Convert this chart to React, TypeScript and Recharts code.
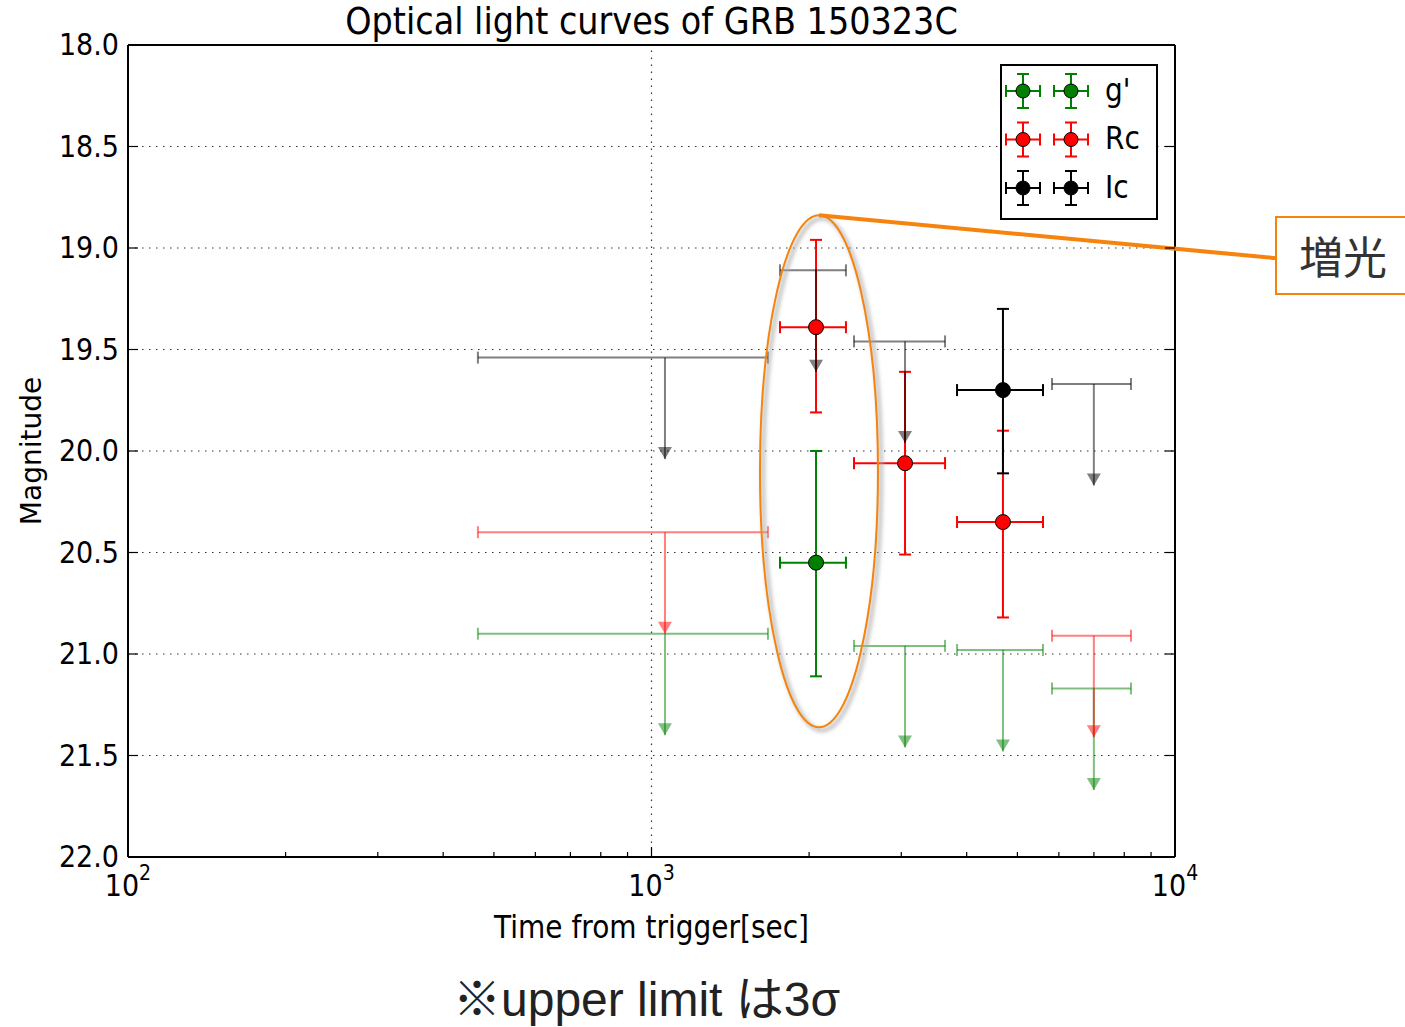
import React from 'react';
import {
  ComposedChart,
  Scatter,
  XAxis,
  YAxis,
  CartesianGrid,
  ErrorBar,
  ReferenceLine,
  ReferenceDot,
  Legend,
} from 'recharts';

// ---------- data ----------
// Detections: time [s], magnitude, time-range, magnitude-range
const G_DET_T = [2062];
const G_DET_MAG = [20.55];
const G_DET_T_LO = [1760];
const G_DET_T_HI = [2352];
const G_DET_MAG_BRIGHT = [20.0];
const G_DET_MAG_FAINT = [21.11];

const RC_DET_T = [2062, 3050, 4692];
const RC_DET_MAG = [19.39, 20.06, 20.35];
const RC_DET_T_LO = [1760, 2437, 3834];
const RC_DET_T_HI = [2352, 3637, 5596];
const RC_DET_MAG_BRIGHT = [18.96, 19.61, 19.9];
const RC_DET_MAG_FAINT = [19.81, 20.51, 20.82];

const IC_DET_T = [4692];
const IC_DET_MAG = [19.7];
const IC_DET_T_LO = [3834];
const IC_DET_T_HI = [5596];
const IC_DET_MAG_BRIGHT = [19.3];
const IC_DET_MAG_FAINT = [20.11];

// Upper limits (3 sigma)
const G_UL_T = [1061, 3050, 4692, 6998];
const G_UL_T_LO = [466, 2437, 3834, 5821];
const G_UL_T_HI = [1669, 3637, 5596, 8241];
const G_UL_MAG = [20.9, 20.96, 20.98, 21.17];

const RC_UL_T = [1061, 6998];
const RC_UL_T_LO = [466, 5821];
const RC_UL_T_HI = [1669, 8241];
const RC_UL_MAG = [20.4, 20.91];

const IC_UL_T = [1061, 2062, 3050, 6998];
const IC_UL_T_LO = [466, 1760, 2437, 5821];
const IC_UL_T_HI = [1669, 2352, 3637, 8241];
const IC_UL_MAG = [19.54, 19.11, 19.46, 19.67];

const ARROW_LEN = 0.5;

const X_MAJOR = [100, 1000, 10000];
const X_MINOR = [200, 300, 400, 500, 600, 700, 800, 900, 2000, 3000, 4000, 5000, 6000, 7000, 8000, 9000];
const X_TICKS = [...X_MAJOR, ...X_MINOR].sort((a, b) => a - b);
const Y_TICKS = [18, 18.5, 19, 19.5, 20, 20.5, 21, 21.5, 22];

const SERIES = [
  { name: "g'", color: '#008000' },
  { name: 'Rc', color: '#ff0000' },
  { name: 'Ic', color: '#000000' },
];

// ---------- table building ----------
const buildDet = (t: number[], m: number[], tl: number[], th: number[], mb: number[], mf: number[]) =>
  t.map((tv, i) => ({ t: tv, mag: m[i], ex: [tv - tl[i], th[i] - tv], ey: [m[i] - mb[i], mf[i] - m[i]] }));
const buildUL = (t: number[], tl: number[], th: number[], m: number[]) =>
  t.map((tv, i) => ({ t: tv, mag: m[i], ex: [tv - tl[i], th[i] - tv], ey: [0, ARROW_LEN] }));
const buildArrow = (t: number[], m: number[]) => t.map((tv, i) => ({ t: tv, mag: m[i] + ARROW_LEN }));

const gDet = buildDet(G_DET_T, G_DET_MAG, G_DET_T_LO, G_DET_T_HI, G_DET_MAG_BRIGHT, G_DET_MAG_FAINT);
const rcDet = buildDet(RC_DET_T, RC_DET_MAG, RC_DET_T_LO, RC_DET_T_HI, RC_DET_MAG_BRIGHT, RC_DET_MAG_FAINT);
const icDet = buildDet(IC_DET_T, IC_DET_MAG, IC_DET_T_LO, IC_DET_T_HI, IC_DET_MAG_BRIGHT, IC_DET_MAG_FAINT);
const gUL = buildUL(G_UL_T, G_UL_T_LO, G_UL_T_HI, G_UL_MAG);
const rcUL = buildUL(RC_UL_T, RC_UL_T_LO, RC_UL_T_HI, RC_UL_MAG);
const icUL = buildUL(IC_UL_T, IC_UL_T_LO, IC_UL_T_HI, IC_UL_MAG);
const gArrow = buildArrow(G_UL_T, G_UL_MAG);
const rcArrow = buildArrow(RC_UL_T, RC_UL_MAG);
const icArrow = buildArrow(IC_UL_T, IC_UL_MAG);

const DET = [gDet, rcDet, icDet];
const UL = [gUL, rcUL, icUL];
const ARROWS = [gArrow, rcArrow, icArrow];

// ---------- styles ----------
const FONT = '"DejaVu Sans", sans-serif';
const ORANGE = '#f7830f';
const UL_ALPHA = 0.5;
const SY = 1.12; // vertical stretch of the original raster text

const stretch = (y: number) => `translate(0 ${y}) scale(1 ${SY}) translate(0 ${-y})`;

const emptyShape = () => <g />;

const markerShape = (color: string) => (p: any) => (
  <circle cx={p.cx} cy={p.cy} r={7.5} fill={color} stroke="#000" strokeWidth={1} />
);

const arrowShape = (color: string) => (p: any) => (
  <path
    d={`M${p.cx - 7},${p.cy - 12} L${p.cx + 7},${p.cy - 12} L${p.cx},${p.cy} Z`}
    fill={color}
    fillOpacity={UL_ALPHA}
  />
);

const bottomTick = (p: any) => {
  const v = p.payload.value;
  const major = X_MAJOR.includes(v);
  const by = p.y + 39;
  return (
    <g>
      <line x1={p.x} y1={p.y} x2={p.x} y2={p.y - (major ? 10 : 5)} stroke="#000" strokeWidth={1.2} />
      {major && (
        <text x={p.x} y={by} transform={stretch(by)} textAnchor="middle" fontSize={27} fontFamily={FONT} fill="#000">
          10
          <tspan dy={-14} fontSize={19}>
            {String(Math.round(Math.log10(v)))}
          </tspan>
        </text>
      )}
    </g>
  );
};

const topTick = (p: any) => {
  const v = p.payload.value;
  const major = X_MAJOR.includes(v);
  return <line x1={p.x} y1={p.y} x2={p.x} y2={p.y + (major ? 10 : 5)} stroke="#000" strokeWidth={1.2} />;
};

const leftTick = (p: any) => (
  <g>
    <line x1={p.x} y1={p.y} x2={p.x + 10} y2={p.y} stroke="#000" strokeWidth={1.2} />
    <text
      x={p.x - 9}
      y={p.y}
      dy="0.34em"
      transform={stretch(p.y)}
      textAnchor="end"
      fontSize={27}
      fontFamily={FONT}
      fill="#000"
    >
      {Number(p.payload.value).toFixed(1)}
    </text>
  </g>
);

const rightTick = (p: any) => (
  <line x1={p.x} y1={p.y} x2={p.x - 10} y2={p.y} stroke="#000" strokeWidth={1.2} />
);

const yLabel = (props: any) => {
  const vb = props.viewBox;
  const x = vb.x - 37;
  const y = vb.y + vb.height / 2;
  return (
    <text
      x={x}
      y={y}
      transform={`rotate(-90 ${x} ${y})`}
      textAnchor="middle"
      dominantBaseline="central"
      fontSize={28}
      fontFamily={FONT}
      fill="#000"
    >
      Magnitude
    </text>
  );
};

const xLabel = (props: any) => {
  const vb = props.viewBox;
  const y = vb.y + vb.height + 21;
  return (
    <text
      x={vb.x + vb.width / 2}
      y={y}
      transform={stretch(y)}
      textAnchor="middle"
      fontSize={28}
      fontFamily={FONT}
      fill="#000"
    >
      Time from trigger[sec]
    </text>
  );
};

const ellipseShape = (p: any) => {
  const { cx, cy } = p;
  const rx = 59;
  const ry = 256;
  return (
    <g>
      <defs>
        <filter id="ellShadow" x="-30%" y="-10%" width="160%" height="120%">
          <feGaussianBlur stdDeviation="2" />
        </filter>
      </defs>
      <ellipse cx={cx + 3} cy={cy + 3} rx={rx} ry={ry} fill="none" stroke="#aaa" strokeWidth={3} filter="url(#ellShadow)" />
      <ellipse cx={cx} cy={cy} rx={rx} ry={ry} fill="none" stroke={ORANGE} strokeWidth={2} />
      <line x1={cx} y1={cy - ry} x2={cx + 458} y2={cy - ry + 43} stroke={ORANGE} strokeWidth={4} />
    </g>
  );
};

const LegendIcon = ({ x, y, color }: { x: number; y: number; color: string }) => (
  <g stroke={color} strokeWidth={2}>
    <line x1={x - 17} y1={y} x2={x + 17} y2={y} />
    <line x1={x - 17} y1={y - 6} x2={x - 17} y2={y + 6} />
    <line x1={x + 17} y1={y - 6} x2={x + 17} y2={y + 6} />
    <line x1={x} y1={y - 17} x2={x} y2={y + 17} />
    <line x1={x - 6} y1={y - 17} x2={x + 6} y2={y - 17} />
    <line x1={x - 6} y1={y + 17} x2={x + 6} y2={y + 17} />
    <circle cx={x} cy={y} r={7} fill={color} stroke="#000" strokeWidth={1} />
  </g>
);

const legendContent = () => (
  <div
    style={{
      width: 158,
      height: 156,
      border: '2px solid #000',
      background: '#fff',
      boxSizing: 'border-box',
    }}
  >
    <svg width={154} height={152} style={{ display: 'block' }}>
      {SERIES.map((s, i) => {
        const cy = 25 + i * 48.5;
        return (
          <g key={s.name}>
            <LegendIcon x={21} y={cy} color={s.color} />
            <LegendIcon x={69} y={cy} color={s.color} />
            <text x={103} y={cy + 10} transform={stretch(cy + 10)} fontSize={28} fontFamily={FONT} fill="#000">
              {s.name}
            </text>
          </g>
        );
      })}
    </svg>
  </div>
);

export default function App() {
  return (
    <div style={{ position: 'absolute', left: 0, top: 0, width: 1405, height: 1027, background: '#fff' }}>
      <ComposedChart width={1405} height={1027} margin={{ top: 40, right: 220, bottom: 110, left: 68 }}>
        <CartesianGrid vertical={false} stroke="#333" strokeDasharray="1.5 5.5" strokeWidth={1.2} />
        <ReferenceLine x={1000} stroke="#333" strokeDasharray="1.5 5.5" strokeWidth={1.2} />
        <XAxis
          dataKey="t"
          type="number"
          scale="log"
          domain={[100, 10000]}
          allowDataOverflow
          ticks={X_TICKS}
          interval={0}
          tickLine={false}
          tickSize={0}
          tickMargin={0}
          height={60}
          axisLine={{ stroke: '#000', strokeWidth: 2 }}
          tick={bottomTick}
          label={xLabel}
        />
        <XAxis
          xAxisId="top"
          orientation="top"
          type="number"
          scale="log"
          domain={[100, 10000]}
          allowDataOverflow
          ticks={X_TICKS}
          interval={0}
          tickLine={false}
          tickSize={0}
          tickMargin={0}
          height={5}
          axisLine={{ stroke: '#000', strokeWidth: 2 }}
          tick={topTick}
        />
        <YAxis
          dataKey="mag"
          type="number"
          domain={[18, 22]}
          reversed
          allowDataOverflow
          ticks={Y_TICKS}
          interval={0}
          tickLine={false}
          tickSize={0}
          tickMargin={0}
          width={60}
          axisLine={{ stroke: '#000', strokeWidth: 2 }}
          tick={leftTick}
          label={yLabel}
        />
        <YAxis
          yAxisId="right"
          orientation="right"
          type="number"
          domain={[18, 22]}
          reversed
          allowDataOverflow
          ticks={Y_TICKS}
          interval={0}
          tickLine={false}
          tickSize={0}
          tickMargin={0}
          width={10}
          axisLine={{ stroke: '#000', strokeWidth: 2 }}
          tick={rightTick}
        />

        {/* detection error bars */}
        {DET.map((d, i) => (
          <Scatter key={`det-err-${i}`} data={d} shape={emptyShape} isAnimationActive={false}>
            <ErrorBar direction="x" dataKey="ex" width={6} stroke={SERIES[i].color} strokeWidth={2} isAnimationActive={false} />
            <ErrorBar direction="y" dataKey="ey" width={6} stroke={SERIES[i].color} strokeWidth={2} isAnimationActive={false} />
          </Scatter>
        ))}

        {/* upper limits */}
        {UL.map((d, i) => (
          <Scatter key={`ul-${i}`} data={d} shape={emptyShape} isAnimationActive={false}>
            <ErrorBar
              direction="x"
              dataKey="ex"
              width={6}
              stroke={SERIES[i].color}
              strokeOpacity={UL_ALPHA}
              strokeWidth={2}
              isAnimationActive={false}
            />
            <ErrorBar
              direction="y"
              dataKey="ey"
              width={0}
              stroke={SERIES[i].color}
              strokeOpacity={UL_ALPHA}
              strokeWidth={2}
              isAnimationActive={false}
            />
          </Scatter>
        ))}
        {ARROWS.map((d, i) => (
          <Scatter key={`arr-${i}`} data={d} shape={arrowShape(SERIES[i].color)} isAnimationActive={false} />
        ))}

        {/* detection markers */}
        {DET.map((d, i) => (
          <Scatter key={`det-mk-${i}`} data={d} shape={markerShape(SERIES[i].color)} isAnimationActive={false} />
        ))}

        <ReferenceDot x={2089} y={20.1} r={0} ifOverflow="visible" shape={ellipseShape} />

        <Legend
          layout="horizontal"
          align="center"
          verticalAlign="middle"
          content={legendContent}
          wrapperStyle={{ left: 1000, top: 64, width: 158, height: 156 }}
        />
      </ComposedChart>

      <svg
        width={1405}
        height={1027}
        style={{ position: 'absolute', left: 0, top: 0, pointerEvents: 'none' }}
      >
        <text
          x={651.5}
          y={34}
          transform={stretch(34)}
          textAnchor="middle"
          fontSize={33.5}
          fontFamily={FONT}
          fill="#000"
        >
          Optical light curves of GRB 150323C
        </text>
        <rect x={1276} y={217} width={150} height={77} fill="#fff" stroke={ORANGE} strokeWidth={2} />
        <text
          x={1343}
          y={274}
          textAnchor="middle"
          fontSize={44}
          fontFamily='"Noto Sans CJK JP", sans-serif'
          fill="#333"
        >
          増光
        </text>
        <text
          x={453}
          y={1016}
          fontSize={48}
          fontFamily='"Liberation Sans", "Noto Sans CJK JP", sans-serif'
          fill="#222"
        >
          ※upper limit は3σ
        </text>
      </svg>
    </div>
  );
}
